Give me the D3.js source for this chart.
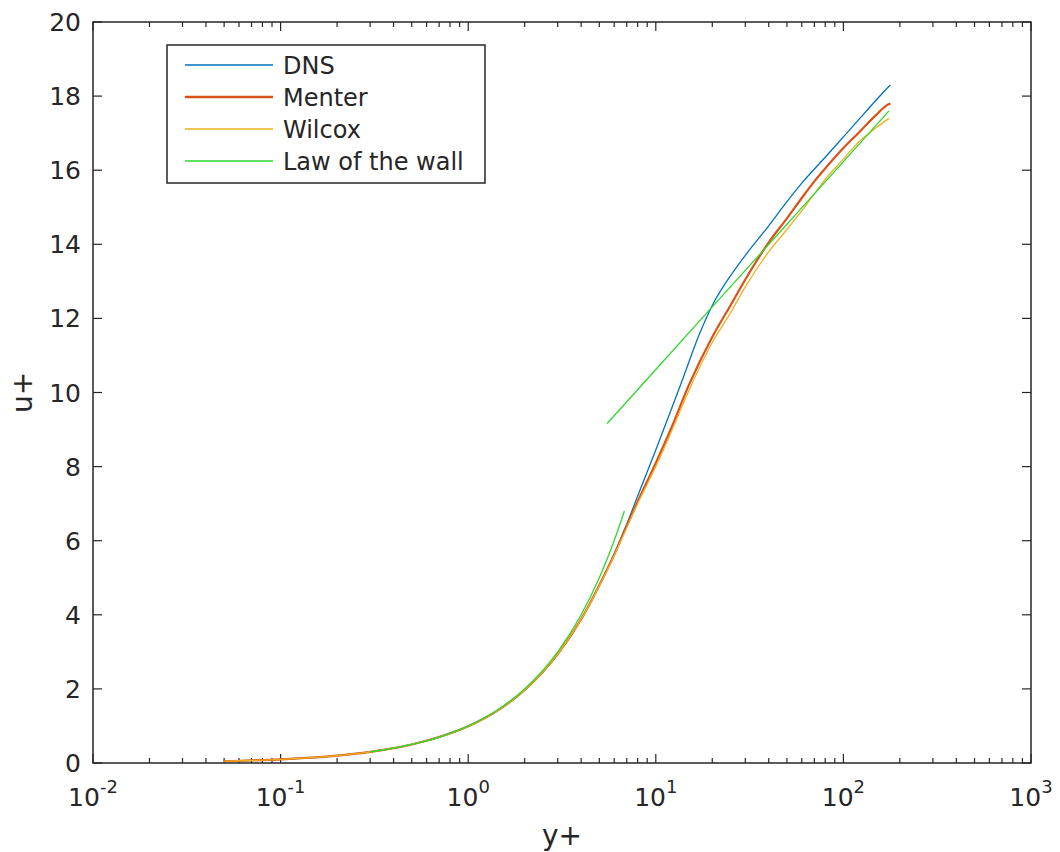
<!DOCTYPE html>
<html>
<head>
<meta charset="utf-8">
<script src="https://cdn.jsdelivr.net/npm/d3@7"></script>
<style>
  body { margin: 0; background: #fff; }
  text { font-family: "DejaVu Sans", sans-serif; fill: #262626; }
</style>
</head>
<body>
<div id="chart"></div>
<script>
// data
var dnsY = [0.05, 0.1, 0.2, 0.3, 0.5, 0.7, 1, 1.5, 2, 3, 4, 5, 6, 7, 8, 10, 12, 14, 17, 20, 25, 30, 40, 50, 60, 80, 100, 120, 150, 170, 178];
var dnsU = [0.05, 0.1, 0.2, 0.3, 0.5, 0.7, 0.99, 1.48, 1.97, 2.94, 3.88, 4.8, 5.65, 6.45, 7.2, 8.45, 9.5, 10.4, 11.55, 12.35, 13.15, 13.7, 14.5, 15.15, 15.65, 16.35, 16.9, 17.35, 17.9, 18.2, 18.3];

var menterY = [0.05, 0.1, 0.2, 0.3, 0.5, 0.7, 1, 1.5, 2, 3, 4, 5, 6, 7, 8, 10, 12, 15, 20, 25, 30, 40, 50, 60, 70, 80, 100, 120, 150, 170, 178];
var menterU = [0.05, 0.1, 0.2, 0.3, 0.5, 0.7, 0.99, 1.48, 1.97, 2.94, 3.88, 4.8, 5.62, 6.4, 7.05, 8.1, 9.0, 10.2, 11.5, 12.35, 13.05, 14.05, 14.7, 15.25, 15.7, 16.05, 16.6, 17.0, 17.5, 17.75, 17.8];

var wilcoxY = [0.05, 0.1, 0.2, 0.3, 0.5, 0.7, 1, 1.5, 2, 3, 4, 5, 6, 7, 8, 10, 12, 15, 20, 25, 30, 40, 50, 60, 80, 100, 120, 150, 175];
var wilcoxU = [0.05, 0.1, 0.2, 0.3, 0.5, 0.7, 0.99, 1.48, 1.97, 2.94, 3.88, 4.78, 5.6, 6.35, 7.0, 8.0, 8.9, 10.05, 11.35, 12.15, 12.85, 13.8, 14.4, 14.9, 15.75, 16.3, 16.75, 17.15, 17.4];

// law of the wall: viscous sublayer and log region (two separate pieces)
var lawViscY = [0.3, 0.4, 0.5, 0.7, 1, 1.5, 2, 3, 4, 5, 6, 6.8];
var lawViscU = [0.3, 0.4, 0.5, 0.7, 1, 1.5, 2, 3, 4, 5, 6, 6.8];
var lawLogY = [5.5, 10, 20, 50, 100, 175];
var lawLogU = [9.16, 10.62, 12.31, 14.54, 16.23, 17.6];

var xTicks = [-2, -1, 0, 1, 2, 3];
var yTicks = [0, 2, 4, 6, 8, 10, 12, 14, 16, 18, 20];
var legendNames = ["DNS", "Menter", "Wilcox", "Law of the wall"];
var colors = ["#0072BD", "#D95319", "#EDB120", "#2ED82E"];
var widths = [1.3, 2.2, 1.3, 1.3];

var width = 1060, height = 852;
var margin = { top: 22, right: 29, bottom: 89, left: 93 };
var axisColor = "#262626";

var svg = d3.select("#chart").append("svg")
  .attr("width", width)
  .attr("height", height);

var x = d3.scaleLog().domain([0.01, 1000]).range([margin.left, width - margin.right]);
var y = d3.scaleLinear().domain([0, 20]).range([height - margin.bottom, margin.top]);

var x0 = x.range()[0], x1 = x.range()[1];
var y0 = y.range()[0], y1 = y.range()[1];

// ticks (inward, on all four sides)
var minorX = [];
for (var e = -2; e < 3; e++) {
  for (var k = 2; k <= 9; k++) minorX.push(k * Math.pow(10, e));
}
var tickG = svg.append("g").attr("stroke", axisColor).attr("stroke-width", 1.2);
minorX.forEach(function (v) {
  tickG.append("line").attr("x1", x(v)).attr("x2", x(v)).attr("y1", y0).attr("y2", y0 - 5);
  tickG.append("line").attr("x1", x(v)).attr("x2", x(v)).attr("y1", y1).attr("y2", y1 + 5);
});
xTicks.forEach(function (p) {
  var v = Math.pow(10, p);
  tickG.append("line").attr("x1", x(v)).attr("x2", x(v)).attr("y1", y0).attr("y2", y0 - 9);
  tickG.append("line").attr("x1", x(v)).attr("x2", x(v)).attr("y1", y1).attr("y2", y1 + 9);
});
yTicks.forEach(function (v) {
  tickG.append("line").attr("x1", x0).attr("x2", x0 + 9).attr("y1", y(v)).attr("y2", y(v));
  tickG.append("line").attr("x1", x1).attr("x2", x1 - 9).attr("y1", y(v)).attr("y2", y(v));
});

// tick labels
xTicks.forEach(function (p) {
  var t = svg.append("text")
    .attr("x", x(Math.pow(10, p)))
    .attr("y", y0 + 43)
    .attr("text-anchor", "middle")
    .style("font-size", "25px");
  t.append("tspan").text("10");
  t.append("tspan").attr("dy", -13).style("font-size", "18px").text(p);
});
yTicks.forEach(function (v) {
  svg.append("text")
    .attr("x", x0 - 12)
    .attr("y", y(v))
    .attr("dy", "0.36em")
    .attr("text-anchor", "end")
    .style("font-size", "25px")
    .text(v);
});

// axis labels
svg.append("text")
  .attr("x", (x0 + x1) / 2)
  .attr("y", 845)
  .attr("text-anchor", "middle")
  .style("font-size", "28px")
  .text("y+");
svg.append("text")
  .attr("transform", "translate(32," + ((y0 + y1) / 2) + ") rotate(-90)")
  .attr("text-anchor", "middle")
  .style("font-size", "28px")
  .text("u+");

// curves
var line = d3.line()
  .x(function (d) { return x(d[0]); })
  .y(function (d) { return y(d[1]); })
  .curve(d3.curveMonotoneX);

function pairs(xs, us) {
  return xs.map(function (v, i) { return [v, us[i]]; });
}

var series = [
  { pts: pairs(dnsY, dnsU), c: 0 },
  { pts: pairs(menterY, menterU), c: 1 },
  { pts: pairs(wilcoxY, wilcoxU), c: 2 },
  { pts: pairs(lawViscY, lawViscU), c: 3 },
  { pts: pairs(lawLogY, lawLogU), c: 3 }
];
series.forEach(function (s) {
  svg.append("path")
    .attr("d", line(s.pts))
    .attr("fill", "none")
    .attr("stroke", colors[s.c])
    .attr("stroke-width", widths[s.c])
    .attr("stroke-linejoin", "round");
});

// box
svg.append("rect")
  .attr("x", x0).attr("y", y1)
  .attr("width", x1 - x0).attr("height", y0 - y1)
  .attr("fill", "none")
  .attr("stroke", axisColor)
  .attr("stroke-width", 1.5);

// legend
var leg = svg.append("g");
leg.append("rect")
  .attr("x", 167).attr("y", 45)
  .attr("width", 318).attr("height", 138)
  .attr("fill", "#fff")
  .attr("stroke", axisColor)
  .attr("stroke-width", 1.5);
legendNames.forEach(function (name, i) {
  var ly = 65 + i * 32;
  leg.append("line")
    .attr("x1", 185).attr("x2", 273)
    .attr("y1", ly).attr("y2", ly)
    .attr("stroke", colors[i])
    .attr("stroke-width", widths[i] + 0.4);
  leg.append("text")
    .attr("x", 283).attr("y", ly)
    .attr("dy", "0.36em")
    .style("font-size", "24px")
    .text(name);
});
</script>
</body>
</html>
